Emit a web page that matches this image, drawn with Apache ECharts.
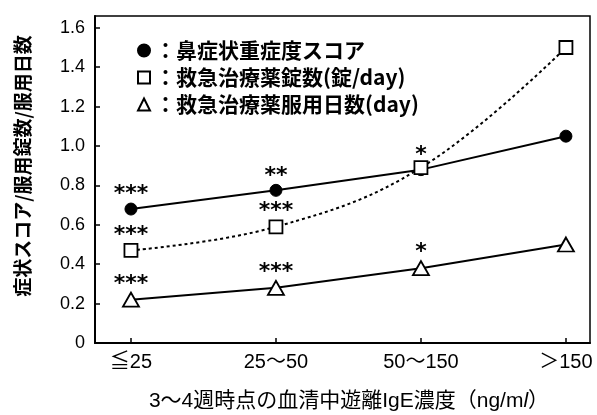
<!DOCTYPE html>
<html><head><meta charset="utf-8">
<script src="https://cdn.jsdelivr.net/npm/echarts@6/dist/echarts.min.js"></script>
<style>html,body{margin:0;padding:0;background:#fff}#c{width:597px;height:415px}</style>
</head><body><div id="c"></div>
<script>
var categories = ['≦25', '25〜50', '50〜150', '＞150'];
var xPositions = [0, 1, 2, 3];
var yTicks = [0, 0.2, 0.4, 0.6, 0.8, 1.0, 1.2, 1.4, 1.6];
var seriesNames = ['鼻症状重症度スコア', '救急治療薬錠数(錠/day)', '救急治療薬服用日数(day)'];
var scoreValues = [0.68, 0.775, 0.88, 1.05];
var tabletValues = [0.47, 0.59, 0.89, 1.50];
var dayValues = [0.22, 0.28, 0.38, 0.50];
var scoreSig = ['***', '**', '*', ''];
var tabletSig = ['***', '***', '', ''];
var daySig = ['***', '***', '*', ''];
var yTitle = '症状スコア/服用錠数/服用日数';

var LAT = "'Liberation Sans', 'Noto Sans CJK JP', sans-serif";
var JP = "'Noto Sans CJK JP', 'Liberation Sans', sans-serif";

function pairs(vals) { return xPositions.map(function (x, i) { return [x, vals[i]]; }); }
function sigLabel(sig) {
  return {
    show: true, position: 'top', distance: 0, offset: [0, 3],
    formatter: function (p) { return sig[p.dataIndex]; },
    fontFamily: "'DejaVu Sans'", fontWeight: 'bold', fontSize: 22, color: '#000'
  };
}

var chart = echarts.init(document.getElementById('c'), null, { renderer: 'canvas' });
chart.setOption({
  animation: false,
  backgroundColor: '#fff',
  grid: { left: 95, right: 7, top: 16, bottom: 72, show: true, borderColor: '#000', borderWidth: 1.5, backgroundColor: 'transparent' },
  legend: {
    orient: 'vertical', left: 132, top: 35, itemGap: 6,
    itemWidth: 12, itemHeight: 12,
    formatter: function (n) { return '：' + n; },
    textStyle: { fontFamily: JP, fontSize: 21, fontWeight: 'bold', color: '#000' },
    data: [
      { name: seriesNames[0], icon: 'circle' },
      { name: seriesNames[1], icon: 'rect' },
      { name: seriesNames[2], icon: 'triangle' }
    ]
  },
  xAxis: {
    type: 'value', min: -0.248, max: 3.166,
    axisLine: { show: true, onZero: false, lineStyle: { color: '#000', width: 2 } },
    axisTick: { show: true, inside: true, length: 5, customValues: xPositions, lineStyle: { color: '#000', width: 1.5 } },
    axisLabel: { customValues: xPositions, margin: 9, fontSize: 20, fontFamily: LAT, color: '#000',
      formatter: function (v) { return categories[Math.round(v)]; } },
    splitLine: { show: false }
  },
  yAxis: {
    type: 'value', min: 0, max: 1.66,
    axisLine: { show: true, onZero: false, lineStyle: { color: '#000', width: 2 } },
    axisTick: { show: true, inside: true, length: 5, customValues: yTicks, lineStyle: { color: '#000', width: 1.5 } },
    axisLabel: { customValues: yTicks, margin: 10, fontSize: 18, fontFamily: LAT, color: '#000',
      formatter: function (v) { return v === 0 ? '0' : v.toFixed(1); } },
    splitLine: { show: false }
  },
  graphic: [
    { type: 'text', x: 23, y: 166, rotation: Math.PI / 2,
      style: { text: yTitle, font: "bold 19px 'Noto Sans CJK JP'", fill: '#000', align: 'center', verticalAlign: 'middle' } },
    { type: 'text', x: 349, y: 401,
      style: { text: '3〜4週時点の血清中遊離IgE濃度（ng/m{i|l}）', rich: { i: { fontStyle: 'italic', fontFamily: LAT, fontSize: 21 } },
        fontFamily: LAT, fontSize: 21, fill: '#000', align: 'center', verticalAlign: 'middle' } }
  ],
  series: [
    { name: seriesNames[0], type: 'line', data: pairs(scoreValues), symbol: 'circle', symbolSize: 12,
      itemStyle: { color: '#000', borderColor: '#000', borderWidth: 1 },
      lineStyle: { color: '#000', width: 2 }, label: sigLabel(scoreSig), z: 2 },
    { name: seriesNames[1], type: 'line', data: pairs(tabletValues), symbol: 'rect', symbolSize: 13, smooth: 0.4,
      itemStyle: { color: '#fff', borderColor: '#000', borderWidth: 1.8 },
      lineStyle: { color: '#000', width: 2, type: [3, 3] }, label: sigLabel(tabletSig), z: 3 },
    { name: seriesNames[2], type: 'line', data: pairs(dayValues), symbol: 'triangle', symbolSize: [16, 14],
      itemStyle: { color: '#fff', borderColor: '#000', borderWidth: 1.8 },
      lineStyle: { color: '#000', width: 2 }, label: sigLabel(daySig), z: 4 }
  ]
});
</script></body></html>
